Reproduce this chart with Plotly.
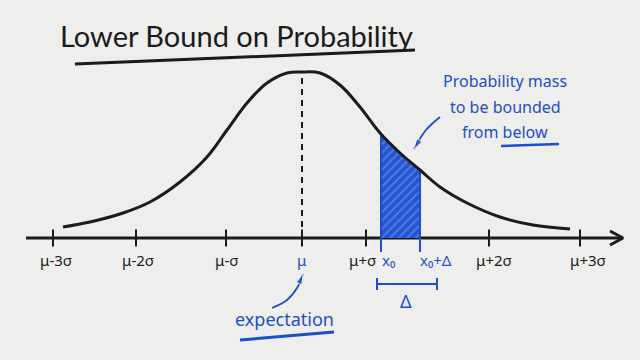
import plotly.graph_objects as go

# ---- data (board coordinates: x = horizontal position, y = height above the axis) ----
curve_x = [63, 90, 123, 150, 180, 207, 227, 247, 267, 287, 302, 320, 340, 360, 380, 400, 420, 440, 467, 500, 533, 570]
curve_y = [11, 16, 25, 36, 56, 81, 108, 135, 155, 165, 166, 165, 153, 131, 105, 85, 68, 51, 35, 21, 13, 9]

tick_pos = [53, 136, 226, 302, 366, 489, 580]
tick_labels = ["μ-3σ", "μ-2σ", "μ-σ", "μ", "μ+σ", "μ+2σ", "μ+3σ"]
tick_label_x = [56, 138, 226, 302, 362, 494, 588]

mu_x = 302
mu_height = 166
x0 = 381
x0_delta = 420
shade_x = [381, 400, 420]
shade_y = [104, 85, 68]

note_lines = ["Probability mass", "to be bounded", "from below"]
note_line_y = [157, 131, 106]

expect_arrow_x = [272, 287, 297, 303]
expect_arrow_y = [-70, -62, -50, -36]
mass_arrow_x = [440, 426, 414]
mass_arrow_y = [121, 108, 89]

BLACK = "#1b1b1b"
BLUE = "#1c4fc9"
BG = "#eeeeec"

fig = go.Figure()

# axis line
fig.add_trace(go.Scatter(x=[26, 622], y=[0, 0], mode="lines",
                         line=dict(color=BLACK, width=3), hoverinfo="skip"))
# arrow head
fig.add_trace(go.Scatter(x=[610, 623, 610], y=[7, 0, -7], mode="lines",
                         line=dict(color=BLACK, width=3), hoverinfo="skip"))
# ticks
fig.add_trace(go.Scatter(x=tick_pos, y=[0] * len(tick_pos), mode="markers",
                         marker=dict(symbol="line-ns-open", size=12, color=BLACK,
                                     line=dict(color=BLACK, width=2)),
                         hoverinfo="skip"))

# shaded region
fig.add_trace(go.Scatter(x=shade_x, y=shade_y, mode="lines", fill="tozeroy",
                         line=dict(color=BLUE, width=0, shape="spline"),
                         fillcolor="#2a5fd8",
                         fillpattern=dict(shape="/", fgcolor="#8fb0f0", bgcolor="#2456d2",
                                          size=6, solidity=0.25),
                         hoverinfo="skip"))
# blue verticals
for xv, top in [(x0, shade_y[0]), (x0_delta, shade_y[-1])]:
    fig.add_trace(go.Scatter(x=[xv, xv], y=[-14, top], mode="lines",
                             line=dict(color=BLUE, width=2), hoverinfo="skip"))

# dashed line at mean
fig.add_trace(go.Scatter(x=[mu_x, mu_x], y=[0, mu_height], mode="lines",
                         line=dict(color=BLACK, width=2, dash="6px,5px"), hoverinfo="skip"))

# bell curve
fig.add_trace(go.Scatter(x=curve_x, y=curve_y, mode="lines",
                         line=dict(color=BLACK, width=3, shape="spline", smoothing=1.0),
                         hoverinfo="skip"))

# Delta bracket
fig.add_trace(go.Scatter(x=[377, 437], y=[-46, -46], mode="lines",
                         line=dict(color=BLUE, width=2), hoverinfo="skip"))
for xv in [377, 437]:
    fig.add_trace(go.Scatter(x=[xv, xv], y=[-40, -52], mode="lines",
                             line=dict(color=BLUE, width=2), hoverinfo="skip"))

# blue pointer arrows
for ax_, ay_ in [(expect_arrow_x, expect_arrow_y), (mass_arrow_x, mass_arrow_y)]:
    n = len(ax_)
    fig.add_trace(go.Scatter(x=ax_, y=ay_, mode="lines+markers",
                             line=dict(color=BLUE, width=1.8, shape="spline"),
                             marker=dict(symbol=["circle"] * (n - 1) + ["arrow"],
                                         size=[0] * (n - 1) + [11],
                                         angleref="previous", color=BLUE),
                             hoverinfo="skip"))

anns = []
for lx, lab in zip(tick_label_x, tick_labels):
    anns.append(dict(x=lx, y=-22, text=lab, showarrow=False,
                     font=dict(family="Noto Sans", size=15,
                               color=BLUE if lab == "μ" else BLACK)))
anns.append(dict(x=388, y=-22, text="x₀", showarrow=False,
                 font=dict(family="Noto Sans", size=15, color=BLUE)))
anns.append(dict(x=436, y=-22, text="x₀+Δ", showarrow=False,
                 font=dict(family="Noto Sans", size=15, color=BLUE)))
anns.append(dict(x=406, y=-63, text="Δ", showarrow=False,
                 font=dict(family="Noto Sans", size=18, color=BLUE)))

# title
anns.append(dict(x=236, y=203, text="Lower Bound on Probability", showarrow=False,
                 font=dict(family="Lato", size=29, color=BLACK)))
# expectation
anns.append(dict(x=284, y=-81, text="expectation", showarrow=False,
                 font=dict(family="Noto Sans", size=18, color=BLUE)))
# probability mass note
for txt, ly in zip(note_lines, note_line_y):
    anns.append(dict(x=505, y=ly, text=txt, showarrow=False,
                     font=dict(family="Noto Sans", size=16, color=BLUE)))

shapes = [
    dict(type="line", x0=75, y0=174, x1=415, y1=188, line=dict(color=BLACK, width=3)),
    dict(type="line", x0=240, y0=-102, x1=334, y1=-94, line=dict(color=BLUE, width=3)),
    dict(type="line", x0=501, y0=92, x1=559, y1=94, line=dict(color=BLUE, width=2.5)),
]

fig.update_layout(
    width=640, height=360,
    margin=dict(l=0, r=0, t=0, b=0),
    paper_bgcolor=BG, plot_bgcolor=BG,
    showlegend=False,
    xaxis=dict(range=[0, 640], visible=False, fixedrange=True),
    yaxis=dict(range=[-122, 238], visible=False, fixedrange=True),
    annotations=anns, shapes=shapes,
)

fig.write_html("out.html")
